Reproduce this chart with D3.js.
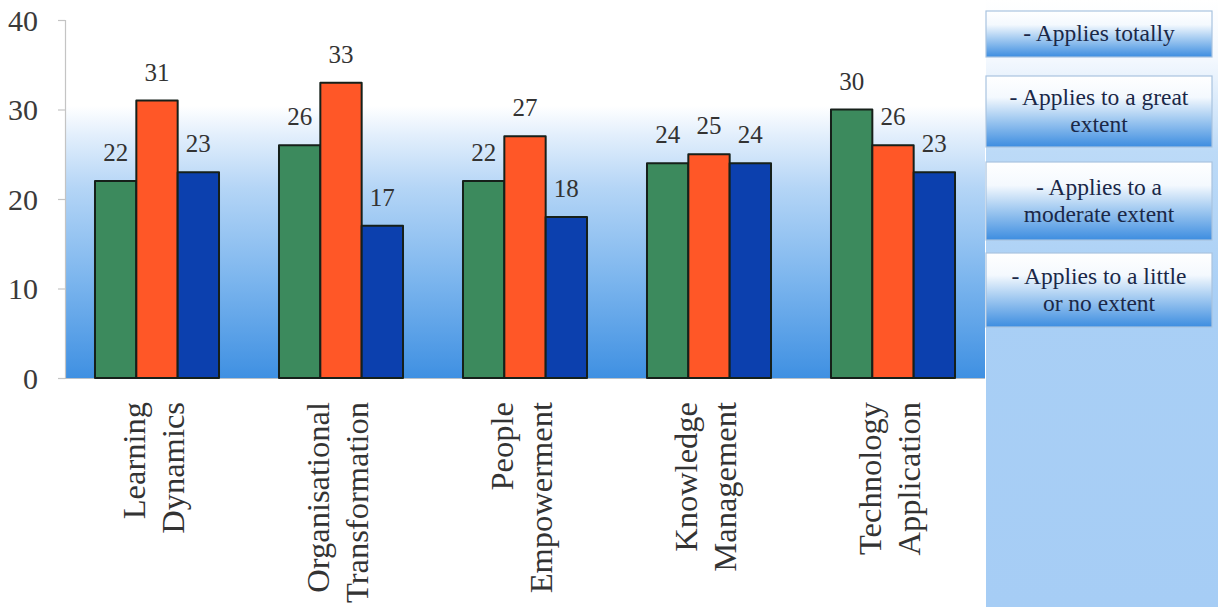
<!DOCTYPE html>
<html>
<head>
<meta charset="utf-8">
<script src="https://cdn.jsdelivr.net/npm/d3@7/dist/d3.min.js"></script>
<style>
  html, body { margin: 0; padding: 0; background: #ffffff; }
  svg { display: block; }
  svg text { font-family: "Liberation Serif", "Times New Roman", "DejaVu Serif", serif !important; }
</style>
</head>
<body>
<svg id="chart" width="1218" height="607"></svg>
<script>
const FONT = "'Liberation Serif', 'Times New Roman', 'DejaVu Serif', serif";

// Categories (two lines each, drawn rotated under the axis)
const categories = [
  ["Learning", "Dynamics"],
  ["Organisational", "Transformation"],
  ["People", "Empowerment"],
  ["Knowledge", "Management"],
  ["Technology", "Application"]
];
const categoryKeys = ["Learning Dynamics", "Organisational Transformation", "People Empowerment", "Knowledge Management", "Technology Application"];

// Series values per category
const seriesNames = ["green", "orange", "blue"];
const greenValues  = [22, 26, 22, 24, 30];
const orangeValues = [31, 33, 27, 25, 26];
const blueValues   = [23, 17, 18, 24, 23];

// Legend entries (one or two lines each)
const legendLabels = [
  ["- Applies totally"],
  ["- Applies to a great", "extent"],
  ["- Applies to a", "moderate extent"],
  ["- Applies to a little", "or no extent"]
];

const yTicks = [0, 10, 20, 30, 40];

const seriesColors = { green: "#3c8a5d", orange: "#ff5727", blue: "#0c40ae" };
const seriesValues = { green: greenValues, orange: orangeValues, blue: blueValues };

const svg = d3.select("#chart").attr("font-family", FONT);
const defs = svg.append("defs");

const plot = { left: 65, right: 985, top: 20, bottom: 378 };

// Gradients
const plotGrad = defs.append("linearGradient").attr("id", "plotGrad")
  .attr("x1", 0).attr("y1", 0).attr("x2", 0).attr("y2", 1);
[[0, "#ffffff"], [0.24, "#ffffff"], [0.32, "#e3effc"], [0.47, "#b4d5f6"], [0.72, "#7db6ee"], [1, "#3f90e2"]]
  .forEach(([o, c]) => plotGrad.append("stop").attr("offset", o).attr("stop-color", c));

const panelGrad = defs.append("linearGradient").attr("id", "panelGrad")
  .attr("gradientUnits", "userSpaceOnUse")
  .attr("x1", 0).attr("y1", 0).attr("x2", 0).attr("y2", 607);
[[0, "#ffffff"], [0.1, "#f3f8fe"], [0.25, "#bcdaf7"], [0.5, "#a9cff5"], [1, "#a6cdf5"]]
  .forEach(([o, c]) => panelGrad.append("stop").attr("offset", o).attr("stop-color", c));

const boxGrad = defs.append("linearGradient").attr("id", "boxGrad")
  .attr("x1", 0).attr("y1", 0).attr("x2", 0).attr("y2", 1);
[[0, "#ffffff"], [0.3, "#f4f9fe"], [0.6, "#a4cbf1"], [1, "#3d8de0"]]
  .forEach(([o, c]) => boxGrad.append("stop").attr("offset", o).attr("stop-color", c));

// Scales
const x0 = d3.scaleBand().domain(categoryKeys).range([plot.left, plot.right])
  .paddingInner(0.326).paddingOuter(0.163);
const x1 = d3.scaleBand().domain(seriesNames).range([0, x0.bandwidth()]).padding(0);
const y = d3.scaleLinear().domain([0, 40]).range([plot.bottom, plot.top]);

// Right-hand panel behind the legend
svg.append("rect").attr("x", 986).attr("y", 0).attr("width", 232).attr("height", 607)
  .attr("fill", "url(#panelGrad)");

// Plot background
svg.append("rect").attr("x", plot.left).attr("y", plot.top)
  .attr("width", plot.right - plot.left).attr("height", plot.bottom - plot.top)
  .attr("fill", "url(#plotGrad)");

// Y axis
const yAxis = svg.append("g").attr("transform", `translate(${plot.left},0)`)
  .call(d3.axisLeft(y).tickValues(yTicks).tickSize(7).tickPadding(20))
  .attr("font-family", FONT);
yAxis.select(".domain").attr("stroke", "#c4c4c4").attr("stroke-width", 1.2);
yAxis.selectAll(".tick line").attr("stroke", "#c4c4c4").attr("stroke-width", 1.2);
yAxis.selectAll(".tick text").attr("font-family", FONT)
  .attr("font-size", 30).attr("fill", "#3a3a3a").attr("dy", "0.34em");

// Baseline
svg.append("line").attr("x1", plot.left).attr("x2", plot.right)
  .attr("y1", y(0) + 0.5).attr("y2", y(0) + 0.5)
  .attr("stroke", "#b8c0c8").attr("stroke-width", 1.2);

// Bars
const groups = svg.append("g").selectAll("g").data(categoryKeys).join("g")
  .attr("transform", d => `translate(${x0(d)},0)`);

groups.selectAll("rect")
  .data((d, i) => seriesNames.map(s => ({ s, v: seriesValues[s][i] })))
  .join("rect")
  .attr("x", d => x1(d.s))
  .attr("y", d => y(d.v))
  .attr("width", x1.bandwidth())
  .attr("height", d => y(0) - y(d.v))
  .attr("fill", d => seriesColors[d.s])
  .attr("stroke", "#16201a").attr("stroke-width", 2).attr("stroke-linejoin", "round");

// Value labels
groups.selectAll("text.val")
  .data((d, i) => seriesNames.map(s => ({ s, v: seriesValues[s][i] })))
  .join("text").attr("class", "val")
  .attr("x", d => x1(d.s) + x1.bandwidth() / 2)
  .attr("y", d => y(d.v) - 20)
  .attr("text-anchor", "middle")
  .attr("font-family", FONT)
  .attr("font-size", 25).attr("fill", "#333333")
  .text(d => d.v);

// Category labels, rotated
const catLabels = svg.append("g").selectAll("text").data(categoryKeys).join("text")
  .attr("transform", d => `translate(${x0(d) + x0.bandwidth() / 2},402) rotate(-90)`)
  .attr("text-anchor", "end")
  .attr("font-family", FONT)
  .attr("font-size", 32.5).attr("fill", "#333333");
catLabels.each(function(d, i) {
  const t = d3.select(this);
  t.append("tspan").attr("x", 0).attr("y", -12).text(categories[i][0]);
  t.append("tspan").attr("x", 0).attr("y", 27).text(categories[i][1]);
});

// Legend boxes
const legendBoxes = [
  { y: 11, h: 46 },
  { y: 76, h: 71 },
  { y: 162, h: 78 },
  { y: 253, h: 74 }
];
const legend = svg.append("g").selectAll("g").data(legendLabels).join("g");
legend.append("rect")
  .attr("x", 986).attr("width", 226)
  .attr("y", (d, i) => legendBoxes[i].y)
  .attr("height", (d, i) => legendBoxes[i].h)
  .attr("fill", "url(#boxGrad)")
  .attr("stroke", "#a9c4e0").attr("stroke-width", 1.2);
legend.each(function(lines, i) {
  const b = legendBoxes[i];
  const g = d3.select(this);
  const lh = 27;
  const start = b.y + b.h / 2 - (lines.length - 1) * lh / 2 + 7;
  lines.forEach((line, j) => {
    g.append("text").attr("x", 1099).attr("y", start + j * lh)
      .attr("text-anchor", "middle")
      .attr("font-family", FONT)
      .attr("font-size", 23.5).attr("fill", "#1a2848")
      .text(line);
  });
});
</script>
</body>
</html>
